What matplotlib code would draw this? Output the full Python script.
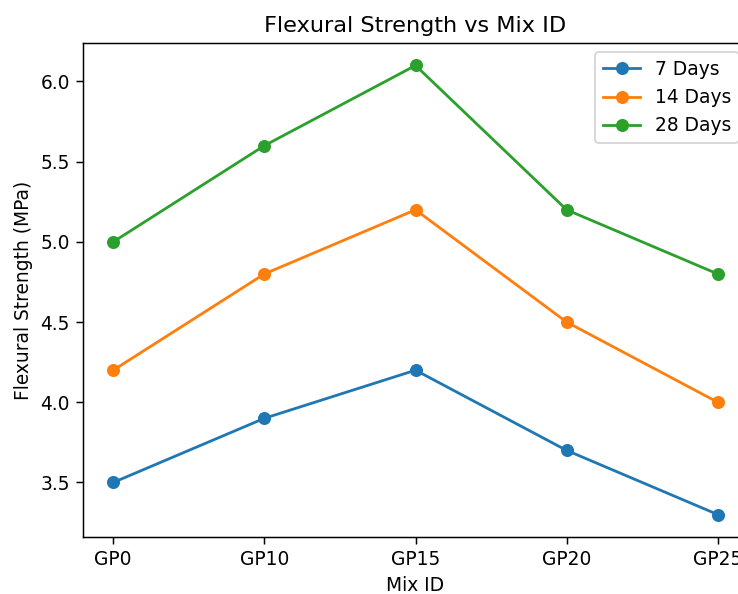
import matplotlib
matplotlib.use("Agg")
import matplotlib.pyplot as plt

mix_ids = ["GP0", "GP10", "GP15", "GP20", "GP25"]
days_7 = [3.5, 3.9, 4.2, 3.7, 3.3]
days_14 = [4.2, 4.8, 5.2, 4.5, 4.0]
days_28 = [5.0, 5.6, 6.1, 5.2, 4.8]

DPI = 134


def main():
    fig = plt.figure(figsize=(738 / DPI, 594 / DPI), dpi=DPI)
    # the original is cropped on the right, so the axes run past the edge
    ax = fig.add_axes([83 / 738, 57 / 594, 665 / 738, 494 / 594])

    ax.plot(mix_ids, days_7, marker="o", label="7 Days")
    ax.plot(mix_ids, days_14, marker="o", label="14 Days")
    ax.plot(mix_ids, days_28, marker="o", label="28 Days")

    ax.set_title("Flexural Strength vs Mix ID")
    ax.set_xlabel("Mix ID")
    ax.set_ylabel("Flexural Strength (MPa)")
    ax.legend(loc="upper right")

    fig.savefig("out.png", dpi=DPI)


if __name__ == "__main__":
    main()
